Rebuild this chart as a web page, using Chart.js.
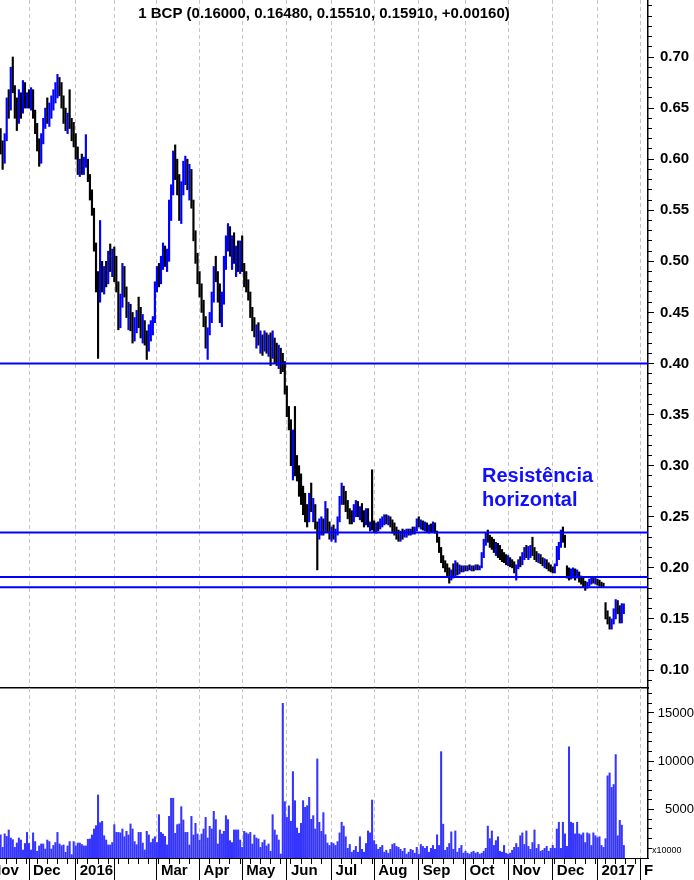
<!DOCTYPE html>
<html>
<head>
<meta charset="utf-8">
<script src="https://cdn.jsdelivr.net/npm/chart.js@4.4.1/dist/chart.umd.min.js"></script>
<style>
html, body { margin: 0; padding: 0; background: #fff; overflow: hidden; }
#wrap { position: relative; width: 694px; height: 880px; overflow: hidden; background: #fff; }
canvas { position: absolute; left: -24px; }
#priceChart { top: 0; }
#volChart { top: 688px; }
</style>
</head>
<body>
<div id="wrap">
<canvas id="priceChart" width="718" height="690"></canvas>
<canvas id="volChart" width="718" height="192"></canvas>
</div>
<script>
// daily bars, Nov 2015 -> Jan 2017 (one entry per trading day)
const highs = [
  .630,.618,.625,.660,.668,.690,.700,.672,.660,.668,.665,.677,.675,.665,
  .668,.670,.668,.648,.635,.620,.625,.640,.650,.660,.655,.662,.668,.675,.683,.680,.675,.662,.650,.645,.668,.640,
  .636,.625,.612,.600,.605,.602,.624,.600,.585,.570,.552,.518,.490,.540,.500,.495,.500,.510,.517,.512,
  .514,.505,.480,.468,.498,.495,.475,.460,.458,.450,.445,.452,.465,.455,.448,.442,.432,.438,.442,.446,.480,
  .495,.498,.505,.518,.515,.512,.560,.575,.608,.614,.600,.585,.578,.598,.603,.600,.595,.590,.560,.530,.508,
  .490,.478,.462,.446,.435,.450,.470,.495,.505,.490,.478,.470,.505,.525,.537,.534,.525,.528,.515,.520,.520,
  .525,.498,.490,.482,.470,.455,.445,.438,.440,.432,.428,.432,.430,.428,.430,.432,.425,.420,.418,.415,.410,.402,
  .378,.358,.345,.335,.358,.310,.300,.292,.280,.273,.262,.273,.283,.268,.262,.245,.248,.250,.248,.265,.258,.245,
  .240,.242,.238,.250,.270,.283,.280,.275,.266,.258,.256,.262,.266,.265,.260,.263,.256,.258,.258,.245,.296,
  .246,.244,.245,.248,.250,.252,.252,.251,.250,.247,.244,.240,.237,.236,.238,.237,.238,.238,.238,.240,.240,.248,.250,
  .247,.246,.245,.244,.242,.243,.245,.244,.236,.230,.220,.212,.207,.204,.200,.198,.204,.207,.205,.203,.202,.202,
  .202,.202,.203,.202,.202,.203,.203,.202,.215,.228,.234,.237,.232,.230,.228,.225,.224,.222,.218,.215,.213,
  .212,.210,.208,.206,.203,.208,.211,.215,.220,.222,.221,.222,.230,.220,.216,.214,.213,.210,.209,.208,.205,.203,
  .201,.204,.221,.225,.237,.240,.232,.202,.200,.199,.200,.199,.198,.196,.192,.190,.187,.186,.189,.191,.191,.190,
  .189,.188,.186,.185,.166,.158,.152,.150,.160,.169,.168,.163,.165,.1648
];
const lows = [
  .605,.590,.596,.618,.640,.648,.665,.640,.628,.635,.640,.645,.650,.650,
  .650,.648,.640,.625,.608,.593,.596,.615,.630,.635,.632,.640,.648,.655,.660,.662,.650,.635,.628,.625,.630,.618,
  .612,.600,.585,.583,.585,.585,.592,.578,.560,.545,.510,.470,.405,.460,.470,.468,.475,.478,.490,.485,
  .480,.470,.433,.435,.455,.465,.445,.433,.432,.420,.422,.430,.435,.425,.420,.418,.404,.412,.422,.428,.440,
  .470,.475,.478,.492,.495,.490,.500,.540,.565,.580,.565,.540,.537,.565,.575,.570,.560,.552,.520,.498,.478,
  .465,.450,.436,.415,.404,.428,.440,.460,.480,.460,.440,.436,.458,.492,.510,.505,.492,.498,.485,.490,.488,
  .490,.475,.470,.462,.445,.432,.426,.415,.418,.410,.408,.412,.410,.407,.398,.405,.400,.398,.395,.390,.392,.370,
  .348,.335,.300,.286,.290,.285,.270,.262,.252,.245,.240,.245,.255,.245,.238,.198,.228,.232,.232,.235,.235,.228,
  .226,.228,.225,.232,.245,.262,.262,.255,.248,.243,.243,.245,.250,.250,.247,.245,.240,.242,.240,.236,.237,
  .235,.234,.236,.238,.240,.242,.243,.242,.240,.234,.232,.228,.226,.226,.228,.230,.230,.232,.232,.233,.233,.236,.240,
  .238,.237,.236,.235,.234,.235,.235,.234,.225,.215,.205,.200,.196,.192,.185,.188,.190,.192,.193,.194,.196,.196,
  .197,.197,.198,.197,.197,.198,.198,.198,.200,.210,.222,.225,.220,.218,.215,.212,.210,.208,.206,.205,.203,
  .202,.201,.200,.195,.188,.199,.201,.203,.208,.210,.208,.210,.212,.208,.206,.205,.204,.202,.200,.199,.197,.196,
  .195,.195,.202,.208,.220,.225,.220,.190,.188,.189,.190,.188,.190,.186,.184,.181,.178,.180,.182,.184,.185,.184,
  .183,.182,.181,.181,.150,.145,.140,.140,.145,.150,.155,.146,.146,.1551
];
const closes = [
  .610,.598,.620,.655,.650,.685,.670,.645,.632,.662,.645,.670,.655,.662,
  .655,.665,.642,.630,.612,.598,.620,.636,.645,.640,.652,.658,.664,.670,.672,.668,.655,.640,.632,.640,.635,.625,
  .618,.605,.590,.595,.588,.598,.600,.582,.565,.550,.515,.480,.455,.495,.475,.490,.480,.505,.495,.500,
  .485,.475,.440,.460,.490,.470,.450,.455,.440,.425,.440,.448,.445,.430,.440,.425,.415,.430,.435,.442,.475,
  .490,.480,.500,.510,.500,.505,.555,.570,.600,.590,.570,.548,.572,.592,.598,.575,.588,.558,.525,.505,.485,
  .470,.455,.440,.425,.430,.445,.465,.490,.485,.468,.445,.462,.500,.520,.530,.510,.520,.505,.510,.495,.515,
  .495,.480,.478,.468,.450,.440,.430,.435,.425,.428,.415,.428,.418,.422,.410,.428,.415,.410,.412,.405,.400,.375,
  .352,.340,.310,.330,.300,.295,.280,.268,.258,.250,.245,.268,.260,.262,.242,.235,.240,.245,.238,.255,.240,.232,
  .235,.232,.236,.248,.268,.278,.270,.260,.252,.250,.248,.258,.262,.255,.258,.250,.245,.255,.242,.243,.240,
  .238,.241,.239,.246,.248,.250,.246,.249,.243,.238,.236,.232,.230,.234,.232,.235,.236,.235,.237,.236,.238,.246,.243,
  .245,.240,.243,.238,.240,.237,.242,.236,.228,.218,.208,.204,.200,.195,.192,.196,.194,.203,.198,.200,.199,.201,
  .200,.201,.199,.201,.200,.202,.200,.201,.213,.225,.232,.228,.224,.222,.218,.220,.214,.212,.210,.208,.206,
  .209,.204,.202,.199,.200,.206,.204,.213,.216,.214,.219,.220,.214,.212,.210,.211,.207,.205,.206,.203,.200,.199,
  .197,.202,.215,.222,.234,.228,.224,.195,.192,.196,.198,.192,.195,.189,.186,.184,.181,.184,.187,.190,.187,.188,
  .185,.184,.183,.182,.155,.150,.145,.148,.158,.165,.160,.150,.1575,.1591
];
// volume, in units of 10000 shares
const volumes = [
  2400,1100,2500,2240,2900,2070,1900,1100,1550,2070,1860,830,1500,2650,
  1500,830,2600,1700,700,1250,1450,1450,930,1860,1700,930,1300,1600,2650,1450,1280,1350,590,1250,1700,350,
  1700,1250,1550,1550,1400,1250,1250,1930,1970,2380,3000,3350,6520,3650,3800,2300,1860,1350,1350,1600,
  3450,2650,2650,2600,3000,2200,2760,2380,3520,3000,1700,1380,2650,2650,1550,830,2760,2380,1600,1970,2200,
  1600,4480,2650,2480,2240,1350,4310,6180,6180,2550,3450,3520,5310,3930,2650,2650,1350,4310,2380,3590,2480,
  1860,2480,3000,4200,2070,3280,3000,4830,3970,1450,2900,2480,2760,4380,3970,1800,1600,2900,2900,2900,1860,
  1100,2760,2600,2480,2650,1450,2380,2070,1970,1100,1600,1860,1250,1450,700,4480,2900,2380,1860,410,16000,5830,
  4200,5400,3800,8940,5930,3100,2550,3590,5930,5240,5410,6280,4000,4380,3000,10250,3690,2760,4690,2415,1550,1300,
  1600,1500,1300,1700,2600,3700,3300,2200,1000,1400,600,800,1200,600,2200,900,600,1500,2800,2600,6000,
  1800,1400,900,1100,1300,600,800,500,900,1400,1500,1200,1100,900,700,1000,400,600,900,800,500,1100,400,
  1400,1200,1000,1200,600,1000,1300,900,2400,1300,11000,3500,800,1100,1500,2700,900,2800,600,1000,1300,500,
  700,500,400,600,700,500,600,400,500,700,1000,3300,2000,2800,1300,1800,2200,700,600,1300,500,
  400,500,800,1100,1500,1100,2300,2600,1400,2800,1200,900,1600,2900,1000,1400,700,800,1000,1200,700,1000,
  1300,1000,3000,3700,1000,3700,2500,1200,11500,3700,3600,2500,3700,2500,2400,2600,1600,2600,2500,1300,2600,2300,
  2100,2200,1300,1100,2000,8500,8800,7300,7600,10700,2300,3900,3400,1300
];

const levels = [0.40, 0.2345, 0.191, 0.181];           // horizontal lines
const monthStarts = [14, 37, 56, 77, 98, 119, 141, 163, 184, 206, 229, 250, 272, 294, 315];
const labelStarts = [-7, 14, 37, 56, 77, 98, 119, 141, 163, 184, 206, 229, 250, 272, 294, 315];
const monthLabels = ['Nov', 'Dec', '2016', '', 'Mar', 'Apr', 'May', 'Jun', 'Jul', 'Aug', 'Sep', 'Oct', 'Nov', 'Dec', '2017', 'F'];
const priceTicks = [0.10, 0.15, 0.20, 0.25, 0.30, 0.35, 0.40, 0.45, 0.50, 0.55, 0.60, 0.65, 0.70];
const volTicks = [5000, 10000, 15000];
const titleText = '1 BCP (0.16000, 0.16480, 0.15510, 0.15910, +0.00160)';

const FONT = '"Liberation Sans", Arial, sans-serif';
const PX = 2.03;               // pixels per trading day
const xMin = -24 / PX - 0.3;   // canvas is shifted 24px left of the page
const xMax = 648 / PX - 0.3;
const n = Math.min(highs.length, lows.length, closes.length, volumes.length);

let barColors = [];
let priceData = [];
let volData = [];
for (let i = 0; i < n; i++) {
	priceData.push({ x: i, y: [lows[i], highs[i]] });
	volData.push({ x: i, y: volumes[i] });
	barColors.push(i > 0 && closes[i] > closes[i - 1] ? '#0000ff' : '#000000');
}

let priceMinor = [];
for (let k = 9; k <= 75; k++) priceMinor.push(k / 100);
let volMinor = [];
for (let k = 1; k <= 17; k++) volMinor.push(k * 1000);
let weekTicks = [];
for (let k = 3; k < 318; k += 5) weekTicks.push(k);

function setTicks(arr) {
	return function (scale) { scale.ticks = arr.map(v => ({ value: v })); };
}
// fixed axis sizes, and no extra padding for the edge labels
function fixSize(w, h) {
	return function (s) {
		if (w !== null) s.width = w;
		if (h !== null) s.height = h;
		s.paddingTop = 0; s.paddingBottom = 0; s.paddingLeft = 0; s.paddingRight = 0;
	};
}

const gridDash = [4, 3];
const gridColor = '#c6c6c6';

const textPlugin = {
	id: 'texts',
	afterDraw(chart) {
		const c = chart.ctx;
		c.save();
		if (chart.canvas.id === 'priceChart') {
			c.fillStyle = '#000';
			c.font = 'bold 15px ' + FONT;
			c.textAlign = 'center';
			c.textBaseline = 'middle';
			c.fillText(titleText, 348, 14);
			c.fillStyle = '#1010ff';
			c.font = 'bold 20px ' + FONT;
			c.textAlign = 'left';
			c.textBaseline = 'alphabetic';
			c.fillText('Resistência', 506, 482);
			c.fillText('horizontal', 506, 506);
		} else {
			c.fillStyle = '#000';
			c.font = '9px ' + FONT;
			c.textAlign = 'left';
			c.textBaseline = 'middle';
			c.fillText('x10000', 676, 163);
		}
		c.restore();
	}
};

let Grafica1 = new Chart(document.getElementById('priceChart'), {
	type: 'bar',
	data: {
		datasets: [
			...levels.map(lv => ({
				type: 'line',
				data: [{ x: xMin, y: lv }, { x: xMax, y: lv }],
				borderColor: '#0000ff',
				borderWidth: 2,
				pointRadius: 0,
				order: 0,
			})),
			{
				type: 'bar',
				data: priceData,
				backgroundColor: barColors,
				barThickness: 1.5,
				grouped: false,
				borderWidth: 0,
				order: 1,
			},
		],
	},
	options: {
		responsive: false,
		animation: false,
		devicePixelRatio: 1,
		layout: { padding: 0 },
		plugins: { legend: { display: false }, tooltip: { enabled: false } },
		scales: {
			x: {
				type: 'linear', min: xMin, max: xMax, offset: false,
				afterBuildTicks: setTicks(monthStarts),
				afterFit: fixSize(null, 2),
				ticks: { display: false },
				grid: { color: gridColor, lineWidth: 1, drawTicks: false, offset: false },
				border: { display: true, color: '#000', width: 1.5, dash: gridDash },
			},
			yMinor: {
				type: 'linear', position: 'right', min: 0.0824, max: 0.7558, weight: 0,
				afterBuildTicks: setTicks(priceMinor),
				afterFit: fixSize(0, null),
				ticks: { display: false },
				grid: { drawOnChartArea: false, drawTicks: true, tickLength: 4, tickColor: '#000' },
				border: { display: false },
			},
			y: {
				type: 'linear', position: 'right', min: 0.0824, max: 0.7558, weight: 1,
				afterBuildTicks: setTicks(priceTicks),
				afterFit: fixSize(46, null),
				ticks: {
					callback: v => v.toFixed(2),
					color: '#000',
					padding: 6,
					font: { family: FONT, size: 15, weight: 'bold' },
				},
				grid: { drawOnChartArea: false, drawTicks: true, tickLength: 6, tickColor: '#000' },
				border: { display: true, color: '#000', width: 1.5 },
			},
		},
	},
	plugins: [textPlugin],
});

let Grafica2 = new Chart(document.getElementById('volChart'), {
	type: 'bar',
	data: {
		datasets: [{
			data: volData,
			backgroundColor: '#3535ff',
			barThickness: 1.4,
			borderWidth: 0,
		}],
	},
	options: {
		responsive: false,
		animation: false,
		devicePixelRatio: 1,
		layout: { padding: 0 },
		plugins: { legend: { display: false }, tooltip: { enabled: false } },
		scales: {
			x: {
				type: 'linear', min: xMin, max: xMax, offset: false, weight: 0,
				afterBuildTicks: setTicks(monthStarts),
				afterFit: fixSize(null, 0),
				ticks: { display: false },
				grid: { color: gridColor, lineWidth: 1, drawTicks: true, tickLength: 22, tickColor: '#000', offset: false },
				border: { display: true, color: '#000', width: 1, dash: gridDash },
			},
			xw: {
				type: 'linear', position: 'bottom', min: xMin, max: xMax, offset: false, weight: 1,
				afterBuildTicks: setTicks(weekTicks),
				afterFit: fixSize(null, 0),
				ticks: { display: false },
				grid: { drawOnChartArea: false, drawTicks: true, tickLength: 6, tickColor: '#000', offset: false },
				border: { display: false },
			},
			xl: {
				type: 'linear', position: 'bottom', min: xMin, max: xMax, offset: false, weight: 2,
				afterBuildTicks: setTicks(labelStarts.map(v => v + 2)),
				afterFit: fixSize(null, 22),
				ticks: {
					callback: (v, i) => monthLabels[i],
					autoSkip: false,
					maxRotation: 0,
					align: 'start',
					color: '#000',
					padding: 4,
					font: { family: FONT, size: 15, weight: 'bold' },
				},
				grid: { display: false, drawTicks: false },
				border: { display: false },
			},
			yMinor: {
				type: 'linear', position: 'right', min: 0, max: 17586, weight: 0,
				afterBuildTicks: setTicks(volMinor),
				afterFit: fixSize(0, null),
				ticks: { display: false },
				grid: { drawOnChartArea: false, drawTicks: true, tickLength: 4, tickColor: '#000' },
				border: { display: false },
			},
			y: {
				type: 'linear', position: 'right', min: 0, max: 17586, weight: 1,
				afterBuildTicks: setTicks(volTicks),
				afterFit: fixSize(46, null),
				ticks: {
					callback: v => String(v),
					color: '#000',
					padding: 4,
					crossAlign: 'far',
					font: { family: FONT, size: 13 },
				},
				grid: { drawOnChartArea: false, drawTicks: true, tickLength: 6, tickColor: '#000' },
				border: { display: true, color: '#000', width: 1.5 },
			},
		},
	},
	plugins: [textPlugin],
});
</script>
</body>
</html>
